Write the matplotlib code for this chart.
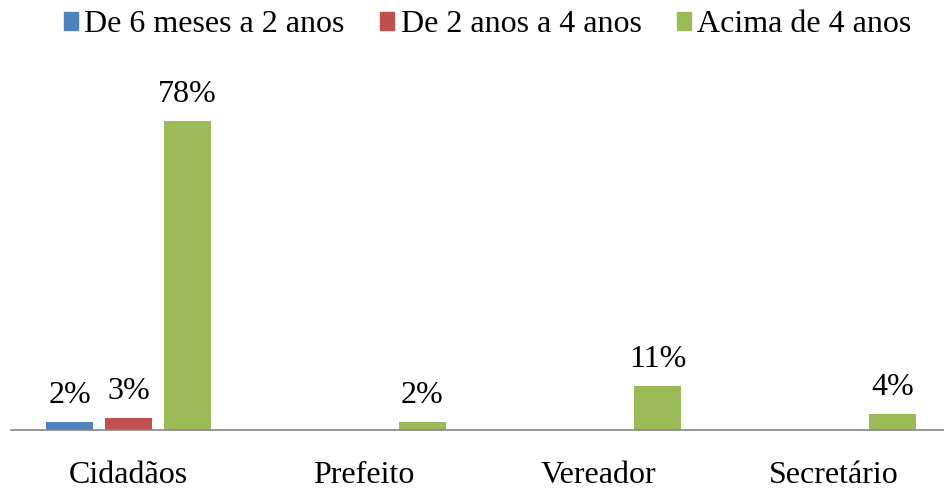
import matplotlib.pyplot as plt
import numpy as np
from matplotlib.patches import Patch

plt.rcParams['font.family'] = ['Liberation Serif', 'DejaVu Serif']

categorias = ['Cidadãos', 'Prefeito', 'Vereador', 'Secretário']
series = ['De 6 meses a 2 anos', 'De 2 anos a 4 anos', 'Acima de 4 anos']
seis_meses_2 = [2, 0, 0, 0]
dois_4 = [3, 0, 0, 0]
acima_4 = [78, 2, 11, 4]
cores = ['#4F81BD', '#C0504D', '#9BBB59']

fig = plt.figure(figsize=(9.45, 4.93), dpi=100)
ax = fig.add_axes([11 / 945, 63 / 493, 940 / 945, 356 / 493])

x = np.arange(len(categorias))
largura = 0.204
passo = 0.251
valores = [seis_meses_2, dois_4, acima_4]
for i, (vals, cor) in enumerate(zip(valores, cores)):
    pos = x + (i - 1) * passo
    ax.bar(pos, vals, largura, color=cor)
    for p, v in zip(pos, vals):
        if v > 0:
            ax.annotate(f'{v}%', (p, v), xytext=(0, 9), textcoords='offset points',
                        ha='center', va='bottom', fontsize=23)

ax.set_xlim(-0.5, len(categorias) - 0.5)
ax.set_ylim(0, 90)
ax.set_xticks(x)
ax.set_xticklabels(categorias, fontsize=23)
ax.tick_params(axis='x', length=0, pad=22)
ax.set_yticks([])
for s in ['top', 'left', 'right']:
    ax.spines[s].set_visible(False)
ax.spines['bottom'].set_color('#868686')
ax.spines['bottom'].set_linewidth(1.2)

handles = [Patch(color=c) for c in cores]
fig.legend(handles, series, loc='upper center', bbox_to_anchor=(0.516, 1.005), ncol=3,
           frameon=False, fontsize=23, handlelength=0.45, handleheight=0.45,
           handletextpad=0.2, columnspacing=1.1, borderaxespad=0)

fig.savefig('out.png', dpi=100)
